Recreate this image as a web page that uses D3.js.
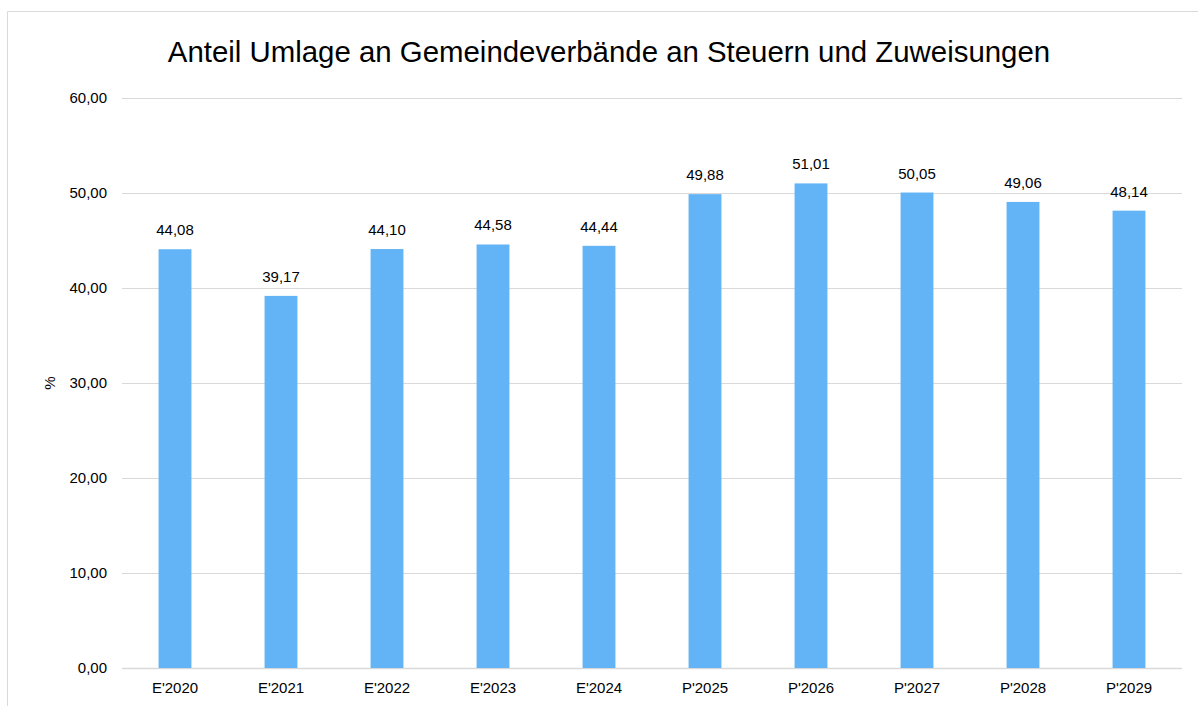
<!DOCTYPE html>
<meta charset="utf-8">
<style>
  body { margin: 0; background: #fff; }
  svg { font-family: "Liberation Sans", Arial, sans-serif; }
</style>
<svg width="1198" height="706"></svg>
<script src="https://d3js.org/d3.v7.min.js"></script>
<script>
var categories = ["E'2020", "E'2021", "E'2022", "E'2023", "E'2024", "P'2025", "P'2026", "P'2027", "P'2028", "P'2029"];
var values = [44.08, 39.17, 44.10, 44.58, 44.44, 49.88, 51.01, 50.05, 49.06, 48.14];
var yTicks = [0, 10, 20, 30, 40, 50, 60];

var svg = d3.select("svg");
var fmt = function(v) { return d3.format(".2f")(v).replace(".", ","); };

// chart frame
svg.append("path")
    .attr("d", "M7.5,706 V11.5 H1198")
    .attr("fill", "none")
    .attr("stroke", "#d9d9d9")
    .attr("stroke-width", 1);

var x = d3.scaleBand().domain(categories).range([122, 1182]).paddingInner(0.69).paddingOuter(0.345);
var y = d3.scaleLinear().domain([0, 60]).range([668, 98]);

// title
svg.append("text")
    .attr("x", 609).attr("y", 62)
    .attr("text-anchor", "middle")
    .attr("font-size", "29.4px")
    .attr("fill", "#000")
    .text("Anteil Umlage an Gemeindeverbände an Steuern und Zuweisungen");

// gridlines
svg.selectAll(".grid").data(yTicks).enter().append("line")
    .attr("x1", 122).attr("x2", 1182)
    .attr("y1", function(d) { return y(d) + 0.5; })
    .attr("y2", function(d) { return y(d) + 0.5; })
    .attr("stroke", "#d9d9d9")
    .attr("stroke-width", function(d) { return d === 0 ? 1.5 : 1.2; });

// y labels
svg.selectAll(".ylab").data(yTicks).enter().append("text")
    .attr("x", 107)
    .attr("y", function(d) { return y(d) + 5; })
    .attr("text-anchor", "end")
    .attr("font-size", "15px")
    .attr("fill", "#000")
    .text(fmt);

svg.append("text")
    .attr("transform", "translate(55,383) rotate(-90)")
    .attr("text-anchor", "middle")
    .attr("font-size", "15px")
    .text("%");

// bars
svg.selectAll(".bar").data(values).enter().append("rect")
    .attr("x", function(d, i) { return x(categories[i]); })
    .attr("width", x.bandwidth())
    .attr("y", function(d) { return y(d); })
    .attr("height", function(d) { return y(0) - y(d); })
    .attr("fill", "#63b4f6");

// value labels
svg.selectAll(".val").data(values).enter().append("text")
    .attr("x", function(d, i) { return x(categories[i]) + x.bandwidth() / 2; })
    .attr("y", function(d) { return y(d) - 14; })
    .attr("text-anchor", "middle")
    .attr("font-size", "15px")
    .text(fmt);

// x labels
svg.selectAll(".xlab").data(categories).enter().append("text")
    .attr("x", function(d) { return x(d) + x.bandwidth() / 2; })
    .attr("y", 693)
    .attr("text-anchor", "middle")
    .attr("font-size", "15px")
    .text(function(d) { return d; });
</script>
